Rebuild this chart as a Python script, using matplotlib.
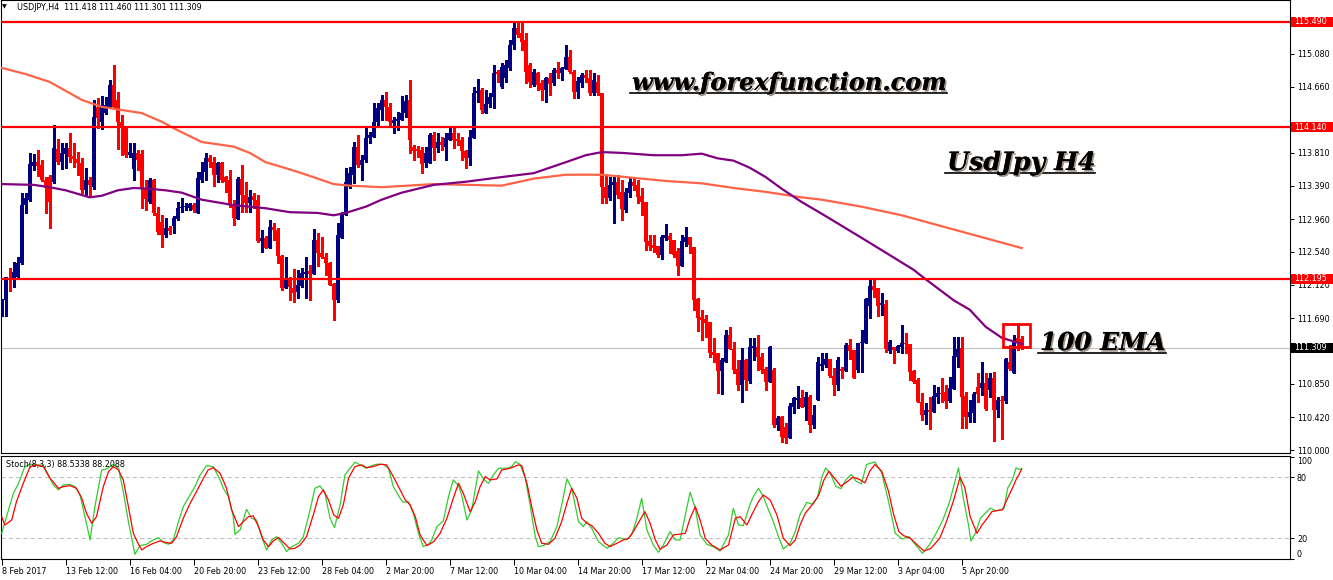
import matplotlib
matplotlib.use("Agg")
import matplotlib.pyplot as plt
import matplotlib.patheffects as pe
from matplotlib.patches import Rectangle
from matplotlib.lines import Line2D
from matplotlib.transforms import IdentityTransform, blended_transform_factory
import numpy as np

# ---------------- data (USDJPY H4) ----------------
opens = [111.76,111.92,112.21,112.19,112.22,112.40,113.14,113.21,113.64,113.69,
 113.65,113.46,113.50,113.44,113.86,113.69,113.80,113.87,113.77,113.73,
 113.68,113.33,113.46,113.37,114.40,114.21,114.32,114.40,114.68,114.49,
 114.21,114.14,113.78,113.60,113.81,113.80,113.36,113.18,113.46,113.04,
 112.92,112.76,112.85,112.87,112.96,113.10,113.12,113.10,113.14,113.04,
 113.46,113.57,113.74,113.69,113.53,113.68,113.50,113.46,113.14,112.96,
 113.48,113.27,113.17,113.26,113.21,112.68,112.72,112.59,112.86,112.82,
 112.49,112.08,112.21,112.08,112.03,112.10,112.26,112.30,112.26,112.69,
 112.53,112.48,112.40,112.13,111.92,112.72,113.01,113.37,113.53,113.89,
 113.65,113.72,114.00,114.01,114.21,114.36,114.49,114.40,114.19,114.22,
 114.23,114.32,114.49,113.89,113.86,113.85,113.68,113.68,114.04,113.87,
 113.95,113.89,113.98,114.07,113.99,113.98,113.84,113.75,114.00,114.58,
 114.62,114.32,114.44,114.53,114.85,114.65,114.77,114.90,115.19,115.41,
 115.35,115.26,114.94,114.68,114.83,114.71,114.62,114.77,114.71,114.87,
 114.83,114.89,115.04,114.85,114.59,114.71,114.81,114.77,114.58,114.72,
 114.58,113.37,113.23,113.40,113.44,113.31,113.08,113.30,113.44,113.40,
 113.26,113.18,112.68,112.63,112.62,112.50,112.72,112.74,112.69,112.55,
 112.36,112.67,112.73,112.60,111.94,111.71,111.68,111.64,111.26,111.24,
 111.01,111.13,111.48,111.30,111.04,110.83,111.15,110.89,111.31,111.32,
 111.19,111.04,110.87,111.03,110.32,110.42,110.30,110.16,110.55,110.64,
 110.67,110.55,110.68,110.32,110.64,111.08,111.09,111.17,110.95,110.83,
 111.04,111.01,111.35,111.28,111.03,111.37,111.37,111.85,112.10,112.08,
 111.86,111.87,111.27,111.32,111.27,111.32,111.37,111.36,111.01,110.90,
 110.62,110.45,110.51,110.49,110.68,110.73,110.74,110.63,110.78,111.19,
 111.31,110.69,110.42,110.48,110.81,110.80,110.86,110.77,110.92,110.51,
 110.64,110.63,111.13,110.99,111.44,111.418]
highs = [111.94,112.22,112.33,112.41,112.47,113.30,113.30,113.81,113.80,113.85,
 113.72,113.50,113.53,114.17,113.99,113.94,113.94,114.06,113.94,113.82,
 113.74,113.62,113.50,114.49,114.51,114.54,114.53,114.74,114.94,114.59,
 114.30,114.16,113.94,113.94,113.85,113.85,113.46,113.49,113.48,113.12,
 113.01,112.98,112.87,113.00,113.18,113.23,113.17,113.17,113.17,113.57,
 113.69,113.81,113.78,113.76,113.69,113.69,113.51,113.59,113.21,113.50,
 113.65,113.44,113.33,113.30,113.27,112.82,112.74,112.95,112.91,112.85,
 112.50,112.47,112.22,112.32,112.31,112.33,112.47,112.37,112.83,112.78,
 112.73,112.53,112.41,112.14,112.91,113.05,113.62,113.63,113.95,114.04,
 113.78,114.14,114.08,114.45,114.45,114.55,114.59,114.45,114.27,114.33,
 114.54,114.55,114.74,113.91,113.90,113.89,113.89,114.07,114.08,114.07,
 114.01,114.07,114.14,114.14,114.07,114.01,113.85,114.10,114.65,114.76,
 114.64,114.62,114.58,114.94,114.87,114.96,115.00,115.26,115.48,115.48,
 115.48,115.35,114.96,114.89,114.85,114.74,114.78,114.83,114.90,114.98,
 114.91,115.19,115.13,114.87,114.78,114.83,114.87,114.87,114.83,114.81,
 114.58,113.53,113.50,113.50,113.53,113.46,113.36,113.49,113.49,113.46,
 113.36,113.18,112.76,112.76,112.62,112.76,112.90,112.78,112.69,112.59,
 112.76,112.86,112.73,112.60,111.95,111.80,111.73,111.64,111.44,111.24,
 111.18,111.54,111.58,111.39,111.15,111.31,111.17,111.44,111.44,111.48,
 111.24,111.07,111.33,111.05,110.44,110.44,110.35,110.60,110.68,110.82,
 110.77,110.75,110.71,110.58,111.19,111.24,111.24,111.17,111.05,111.19,
 111.07,111.37,111.42,111.28,111.37,111.54,111.95,112.18,112.19,112.08,
 112.01,111.92,111.41,111.32,111.35,111.60,111.50,111.36,111.03,110.92,
 110.73,110.60,110.68,110.83,110.81,110.92,110.83,110.94,111.45,111.45,
 111.45,110.74,110.64,110.75,110.99,111.13,110.99,110.99,111.00,110.68,
 110.69,111.18,111.35,111.48,111.60,111.460]
lows = [111.72,111.72,112.04,112.09,112.21,112.39,113.04,113.19,113.59,113.51,
 113.45,113.04,112.85,113.42,113.67,113.60,113.62,113.69,113.63,113.53,
 113.30,113.27,113.24,113.35,114.13,114.12,114.31,114.39,114.39,113.86,
 113.78,113.76,113.76,113.46,113.59,113.10,113.08,113.17,113.01,112.77,
 112.60,112.73,112.77,112.78,112.95,113.05,113.08,113.08,113.05,113.04,
 113.44,113.46,113.63,113.39,113.44,113.44,113.31,113.12,112.89,112.96,
 113.05,113.05,113.05,113.10,112.67,112.54,112.59,112.59,112.69,112.40,
 112.05,112.08,111.92,111.90,111.95,112.09,111.95,111.92,112.26,112.36,
 112.46,112.24,112.12,111.67,111.90,112.72,113.01,113.36,113.42,113.63,
 113.46,113.69,113.94,114.01,114.14,114.23,114.23,114.14,114.06,114.10,
 114.23,114.27,113.81,113.72,113.76,113.55,113.63,113.68,113.72,113.82,
 113.85,113.72,113.98,113.87,113.91,113.72,113.62,113.65,114.00,114.46,
 114.32,114.32,114.40,114.39,114.72,114.64,114.72,114.87,115.14,115.30,
 115.13,114.71,114.65,114.67,114.62,114.49,114.46,114.55,114.68,114.77,
 114.74,114.89,114.83,114.51,114.51,114.65,114.72,114.55,114.55,114.55,
 113.17,113.17,113.21,112.91,113.23,112.95,113.05,113.24,113.33,113.17,
 113.01,112.57,112.57,112.54,112.48,112.45,112.69,112.53,112.48,112.24,
 112.36,112.62,112.53,111.80,111.53,111.41,111.45,111.19,111.13,110.73,
 110.72,111.13,111.30,110.99,110.77,110.62,110.77,110.86,111.15,111.03,
 110.99,110.77,110.87,110.30,110.26,110.10,110.09,110.16,110.48,110.54,
 110.55,110.39,110.23,110.28,110.64,111.03,111.06,110.94,110.71,110.77,
 110.92,111.01,111.17,110.92,111.00,111.00,111.37,111.69,111.96,111.72,
 111.73,111.26,111.24,111.12,111.26,111.24,111.24,110.90,110.86,110.62,
 110.39,110.34,110.27,110.49,110.60,110.62,110.54,110.62,110.78,111.07,
 110.28,110.28,110.36,110.36,110.62,110.71,110.51,110.68,110.12,110.42,
 110.14,110.60,111.03,110.99,111.28,111.301]
closes = [111.92,112.22,112.18,112.28,112.40,113.14,113.23,113.67,113.69,113.64,
 113.46,113.36,113.18,113.87,113.69,113.81,113.87,113.76,113.73,113.68,
 113.33,113.46,113.40,114.27,114.26,114.42,114.42,114.68,114.40,114.21,
 114.14,113.78,113.82,113.81,113.72,113.36,113.22,113.46,113.04,112.80,
 112.76,112.85,112.81,112.98,113.10,113.12,113.13,113.16,113.08,113.49,
 113.57,113.74,113.69,113.53,113.68,113.46,113.44,113.14,112.98,113.48,
 113.27,113.17,113.24,113.21,112.68,112.72,112.59,112.86,112.82,112.49,
 112.08,112.21,112.09,112.01,112.12,112.27,112.28,112.26,112.69,112.53,
 112.48,112.40,112.12,111.92,112.76,113.01,113.44,113.55,113.89,113.65,
 113.72,114.00,114.04,114.21,114.39,114.49,114.40,114.21,114.23,114.24,
 114.32,114.48,113.98,113.84,113.84,113.67,113.81,114.04,113.87,113.95,
 113.91,114.00,114.07,113.98,113.96,113.84,113.75,114.01,114.58,114.60,
 114.36,114.44,114.53,114.83,114.82,114.91,114.94,115.19,115.41,115.32,
 115.23,114.85,114.72,114.85,114.68,114.62,114.77,114.69,114.87,114.83,
 114.90,115.04,114.85,114.59,114.73,114.81,114.77,114.58,114.74,114.58,
 113.37,113.23,113.40,113.44,113.27,113.09,113.31,113.44,113.39,113.24,
 113.18,112.67,112.62,112.59,112.50,112.73,112.76,112.69,112.50,112.36,
 112.68,112.73,112.63,111.92,111.69,111.67,111.63,111.24,111.22,111.01,
 111.15,111.48,111.30,111.03,110.83,111.15,110.90,111.32,111.33,111.19,
 111.03,110.87,111.32,110.32,110.41,110.17,110.16,110.57,110.67,110.67,
 110.55,110.68,110.32,110.45,111.13,111.10,111.17,110.95,110.83,111.15,
 111.01,111.35,111.27,110.92,111.37,111.38,111.94,112.10,112.05,111.85,
 111.89,111.30,111.39,111.28,111.33,111.37,111.36,111.00,110.87,110.62,
 110.45,110.51,110.49,110.69,110.73,110.72,110.63,110.80,111.21,111.30,
 110.68,110.42,110.49,110.72,110.72,110.86,110.53,110.92,110.51,110.64,
 110.63,111.17,111.04,111.41,111.39,111.309]

# moving averages (candle index, price)
ema_fast_x = [0,8,12,16,20,22,25,29,33,37,41,45,50,58,66,72,79,83,86,91,95,100,108,116,
              125,133,137,141,146,150,155,163,170,175,179,183,187,191,195,200,205,215,
              222,228,231,238,242,246,250,255]
ema_fast_y = [113.41,113.40,113.37,113.33,113.27,113.24,113.26,113.33,113.36,113.35,113.33,
              113.30,113.21,113.14,113.10,113.05,113.04,113.01,113.04,113.12,113.21,113.30,
              113.40,113.44,113.50,113.55,113.62,113.69,113.78,113.82,113.81,113.78,113.78,
              113.80,113.74,113.71,113.62,113.50,113.35,113.18,113.03,112.72,112.50,112.31,
              112.19,111.92,111.80,111.58,111.44,111.36]
ema_slow_x = [0,6,12,20,25,30,35,40,44,50,58,62,66,70,75,79,83,87,95,108,125,133,141,150,
              158,166,175,183,191,200,205,215,225,240,250,255]
ema_slow_y = [114.90,114.82,114.72,114.49,114.40,114.36,114.32,114.21,114.10,113.95,113.89,
              113.81,113.69,113.63,113.55,113.48,113.41,113.39,113.37,113.41,113.39,113.48,
              113.53,113.53,113.49,113.45,113.42,113.36,113.31,113.24,113.21,113.12,113.01,
              112.80,112.66,112.59]

levels = [115.490, 114.140, 112.195]
last_price = 111.309

# Stochastic(8,3,3): %K (green) and %D (red)
k_x = [0,1.2,2.9,4.2,5.8,7.1,8.7,10.4,11.7,12.9,14.2,15.4,17.1,18.3,19.6,20.8,22.1,23.3,25,26.2,
       27.9,29.2,30.4,31.6,33.3,34.6,36.2,37.9,39.2,40.4,41.7,42.9,44.2,45.4,47.1,48.3,49.6,51.2,
       52.9,54.6,55.4,56.7,57.9,58.3,59.6,61.2,62.5,63.7,65,66.2,67.5,68.7,70,71.2,72.5,74.2,75.4,
       77.1,78.3,79.6,80.8,82.1,83.2,84.6,85.8,87.1,88.3,89.6,91.2,92.5,93.7,95.4,96.7,97.9,99.6,
       100.4,101.7,102.9,104.2,105.4,106.7,107.5,108.8,110.4,111.7,112.9,114.2,115,116.3,117.5,
       119.2,120.4,121.7,122.9,124.2,126.3,127.5,128.4,129.6,130.9,132.1,133.4,134.2,135.4,137.1,
       138.8,140,141.3,142.5,144.2,145.4,146.3,147.5,149.2,151.3,152.9,154.2,156.3,157.5,158.8,
       160,161.3,162.9,164.2,165.4,167.1,168.4,169.6,170.9,172.1,173.4,174.6,176.3,177.9,179.6,
       181.7,182.9,184.2,185.4,187.1,187.9,189.2,190.4,191.7,192.9,194.2,195.4,197.1,198.4,199.6,
       201.3,202.6,203.9,205.1,206,207.3,208.5,209.8,211.1,212.4,213.6,214.9,216.2,218.3,220,
       221.7,223.4,225.1,226.8,228.5,230.2,231.9,233.6,235.3,237,238.7,239.2,240.4,241.7,242.3,
       243.4,244.7,245.9,247.2,248.5,249.8,250.6,251.5,252.7,253.6,254.4,255]
k_y = [25,41,64,74,90.5,93,92,92,82,72.5,67.6,72.5,73,71,62.6,41.3,18.4,51.2,87.2,88.2,
       92.8,88.9,65.9,38,4.3,12.8,14.1,18.4,20.7,16.1,14.1,18.4,36.4,51.2,62.6,70.8,82.3,91.5,
       90.5,77.4,69.2,61,41.3,23.9,28.2,48.5,39.7,38,21.6,8.5,18.4,21.6,15.1,6.9,11.8,15.1,21.6,
       47.9,69.2,71.5,64.3,39.7,30.5,52.8,82.3,88.9,94.8,92.2,88.9,91.5,92.8,92.8,88.9,70.8,59.4,
       55.4,56.1,44.6,24.9,11.8,14.1,18.4,31.5,37.1,61,77.4,71.8,62.6,38,47.9,
       86.3,78.4,74.1,82.3,88.9,88.9,90.5,95.4,92.8,79,52.8,21.6,11.8,12.8,16.7,
       31.5,52.8,78.4,69.2,36.4,31.5,36.4,29.8,16.7,10.2,15.1,20.7,18.4,23.3,39.7,
       59.4,28.2,13.4,6.2,13.4,26.6,18.4,18.4,43,65.3,49.5,23.3,14.1,11.8,7.5,
       23.3,49.5,33.1,32.5,53.5,61,69.2,61,47.9,36.4,21.6,9.5,15.1,26.6,43.6,
       55.3,53.7,59.6,81,89.3,82.7,71.2,68.8,77.8,82.7,76.1,73.5,92.6,95.2,84.4,
       56.3,24.9,19.3,21.7,13.4,5.2,13.4,24.9,38.1,56.3,82,89.3,59.6,33.2,17.4,
       24.9,39.8,44.8,49.7,47.1,48.1,49.7,69.5,77.8,89.3,87.7,88.53]
d_x = [0,0.8,2.5,3.7,5.4,7.1,8.7,10.4,12.1,14.2,15.4,17.1,18.7,20,21.2,22.5,23.7,25.4,26.7,27.9,
       29.2,30.4,31.6,32.9,34.2,35,36.2,37.9,39.6,41.2,42.5,43.7,45.4,47.1,48.7,50,51.6,52.9,54.6,
       56.2,57.5,59.2,60.4,61.7,62.9,64.2,65.4,66.7,67.9,69.2,70.4,72.1,73.3,74.6,76.2,77.9,79.2,
       80.4,81.7,83,84.2,85.4,86.7,88.3,90,91.2,92.9,94.6,96.2,97.9,99.6,
       100.9,102.1,103.4,104.6,106.3,108,109.6,111.3,112.9,114.2,115.4,117.1,118.4,119.6,120.9,
       122.1,123.8,125,127.1,129.2,130,131.3,132.5,133.8,135,136.7,138.3,140,141.3,142.5,143.8,
       145,146.3,147.5,149.2,150.8,152.1,153.8,155.4,156.7,157.9,159.6,160.8,162.1,163.4,164.6,
       166.3,167.9,169.2,170.9,172.1,173.4,174.6,175.9,177.5,179.6,181.7,183.4,184.6,186.3,187.5,
       189.2,190.4,192.1,193.8,195.4,197.1,198.4,199.6,
       200.9,203,204.3,205.6,206.8,208.1,209.8,211.5,212.8,214.5,215.8,217,218.3,220,221.7,223,
       224.3,225.5,227.2,228.9,230.6,232.3,234.5,236.2,237.9,239.6,240.8,242.1,243.8,245.1,246.4,
       247.6,250.2,251.5,252.7,253.6,254.4,255]
d_y = [41.3,33.1,38,56.1,74.1,90.5,92.2,90.5,79,69.2,70.8,71.8,69.2,59.4,44.6,34.8,41.3,70.8,85.6,
       90.5,87.2,77.4,52.8,24.9,14.1,8.5,11.8,15.1,17.4,15.7,15.1,21.6,39.7,54.4,65.9,75.8,87.2,
       89.5,84,69.2,47.9,31.5,36.4,41.3,42,31.5,18.4,11.8,17.4,20.7,16.1,9.5,10.2,13.4,21.6,43,61,
       67.6,57.7,43,39.7,52.8,79,90.5,92.2,89.5,90.5,92.8,92.2,80.7,67.6,
       57.7,52.8,41.3,23.3,12.8,16.7,24.9,39.7,59.4,74.1,64.3,46.2,56.1,70.8,80.7,
       77.4,78.4,87.2,88.9,92.2,91.5,74.1,51.2,28.2,15.1,14.1,20,36.4,54.4,69.2,59.4,
       39.7,34.8,32.5,24.9,15.1,11.8,15.1,18.4,20,26.6,38,46.2,34.8,18.4,9.2,
       13.4,23.3,23.9,24.9,39.7,51.2,38,20,13.4,8.5,13.4,39.7,41.3,33.1,43,
       56.1,62.6,57.7,43,20,12.8,18.4,33.1,
       44.8,54.7,62.9,77.8,86,79.5,71.2,76.1,80.1,77.8,74.5,86,92.6,86,66.2,43.1,
       26.6,22.6,20,13.4,7.5,10.1,20,36.5,56.3,80.1,69.5,41.5,24.9,33.2,39.8,
       46.4,48.1,59.6,69.5,77.8,83.4,88.21]

date_labels = ["8 Feb 2017", "13 Feb 12:00", "16 Feb 04:00", "20 Feb 20:00", "23 Feb 12:00",
               "28 Feb 04:00", "2 Mar 20:00", "7 Mar 12:00", "10 Mar 04:00", "14 Mar 20:00",
               "17 Mar 12:00", "22 Mar 04:00", "24 Mar 20:00", "29 Mar 12:00", "3 Apr 04:00",
               "5 Apr 20:00"]
# 114.230 and 111.270 are covered by the level/price boxes in the reference
price_ticks = [115.080, 114.660, 113.810, 113.390, 112.960, 112.540, 112.120,
               111.690, 110.850, 110.420, 110.000]
stoch_levels = [20, 80]

# ---------------- figure ----------------
W, H = 1333, 580
fig = plt.figure(figsize=(W / 100, H / 100), dpi=100)
fig.patch.set_facecolor("white")
SMALL = 5.8
plt.rcParams["font.family"] = ["DejaVu Sans"]

def px_axes(l, t, r, b):
    return fig.add_axes([l / W, 1 - b / H, (r - l) / W, (b - t) / H])

ax = px_axes(1, 0, 1290, 453)
axs = px_axes(1, 456, 1290, 559)

X0, X1 = -0.175, 322.075
for a in (ax, axs):
    a.set_xlim(X0, X1)
    a.set_facecolor("white")
    for s in a.spines.values():
        s.set_linewidth(0.8)
        s.set_color("black")
ax.set_ylim(109.9625, 115.77)
axs.set_ylim(-0.36, 100.95)

o = np.array(opens); hh = np.array(highs); ll = np.array(lows); c = np.array(closes)
idx = np.arange(len(o))
up = c >= o
cols = np.where(up, "#000080", "#FF0000")
ax.vlines(idx, ll, hh, colors=cols, linewidth=0.75, antialiased=False, zorder=2)
body_lo = np.minimum(o, c)
body_h = np.maximum(np.abs(c - o), 0.012)
ax.bar(idx, body_h, bottom=body_lo, width=0.7, color=cols, linewidth=0,
       antialiased=False, zorder=3)

# moving averages
ax.plot(ema_slow_x, ema_slow_y, color="#FF6347", lw=1.6, zorder=4)
ax.plot(ema_fast_x, ema_fast_y, color="#800080", lw=1.6, zorder=4)

# horizontal lines
for lv in levels:
    ax.axhline(lv, color="#FF0000", lw=1.6, zorder=5)
ax.axhline(last_price, color="#C0C0C0", lw=0.8, zorder=1)

# annotation box around the last candles
ax.add_patch(Rectangle((250.25, 111.32), 6.8, 0.30, fill=False, ec="#FF0000", lw=2.0, zorder=6))

# price axis (right)
ax.yaxis.tick_right()
ax.set_yticks(price_ticks)
ax.set_yticklabels([f"{t:.3f}" for t in price_ticks])
ax.tick_params(axis="y", direction="out", length=3, width=0.7, pad=2, labelsize=SMALL,
               colors="black")
ax.set_xticks([])

bt = blended_transform_factory(ax.transAxes, ax.transData)
box_w = (W - 1290) / (1290 - 1)
for lv, fc in [(lv, "#FF0000") for lv in levels] + [(last_price, "#000000")]:
    ax.add_patch(Rectangle((1.0005, lv - 0.066), box_w, 0.132, transform=bt, clip_on=False,
                           fc=fc, ec="none", zorder=10))
    ax.text(1.0 + 4 / 1289, lv, f"{lv:.3f}", transform=bt, color="white", fontsize=SMALL,
            ha="left", va="center", zorder=11, clip_on=False)

# stochastic panel
for lv in stoch_levels:
    axs.axhline(lv, color="#C0C0C0", lw=0.75, dashes=(4, 3), zorder=1)
axs.plot(k_x, k_y, color="#32CD32", lw=0.9, zorder=3)
axs.plot(d_x, d_y, color="#FF0000", lw=0.9, zorder=4)
axs.yaxis.tick_right()
axs.set_yticks([0, 20, 80, 100])
axs.set_yticklabels(["0", "20", "80", "100"])
axs.tick_params(axis="y", direction="out", length=3, width=0.7, pad=2, labelsize=SMALL)
yl = axs.get_yticklabels()
yl[0].set_verticalalignment("bottom")
yl[3].set_verticalalignment("top")
axs.set_xticks(list(range(0, 16 * len(date_labels), 16)))
axs.set_xticklabels(date_labels, ha="left")
axs.tick_params(axis="x", direction="out", length=4, width=0.7, pad=1.5, labelsize=SMALL)
axs.text(5 / 1289, 1 - 9 / 103, "Stoch(8,3,3) 88.5338 88.2088", transform=axs.transAxes,
         fontsize=SMALL, ha="left", va="center")

# header
fig.text(2 / W, 1 - 7 / H, "\u25BC", fontsize=4.5, ha="left", va="center")
fig.text(17 / W, 1 - 8 / H, "USDJPY,H4  111.418 111.460 111.301 111.309", fontsize=SMALL,
         ha="left", va="center")

# titles with shadow + underline
fx = [pe.withSimplePatchShadow(offset=(1.2, -1.2), shadow_rgbFace=(0.6, 0.55, 0.5), alpha=1.0),
      pe.Normal()]
titles = [("www.forexfunction.com", 632, 90, 17.3),
          ("UsdJpy H4", 947, 170, 18.2),
          ("100 EMA", 1040, 350, 17.8)]
tobjs = []
for s, x, yb, fs in titles:
    t = fig.text(x / W, 1 - yb / H, s, fontsize=fs, family="DejaVu Serif", weight="bold",
                 style="italic", ha="left", va="baseline", color="black", path_effects=fx)
    tobjs.append((t, yb))
fig.canvas.draw()
rend = fig.canvas.get_renderer()
for t, yb in tobjs:
    bb = t.get_window_extent(rend)
    y = H - (yb + 2.5)
    fig.add_artist(Line2D([bb.x0 - 2, bb.x1], [y, y], transform=IdentityTransform(),
                          color="black", lw=1.2))

fig.savefig("out.png", dpi=100, facecolor="white")
